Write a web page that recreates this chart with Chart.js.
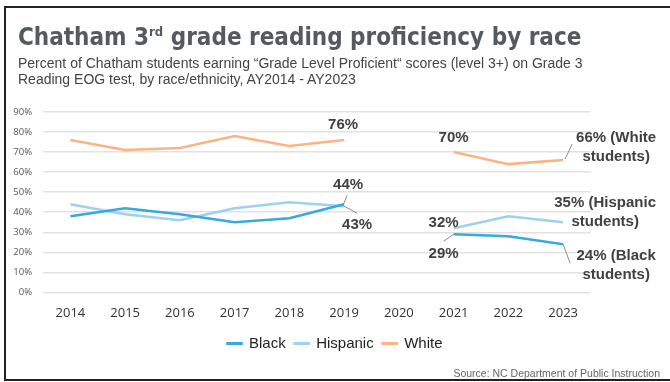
<!DOCTYPE html>
<html>
<head>
<meta charset="utf-8">
<script src="https://cdn.jsdelivr.net/npm/chart.js@4.4.1/dist/chart.umd.min.js"></script>
<style>
  html, body { margin: 0; padding: 0; background: #fff; }
  #wrap { position: relative; width: 670px; height: 382px; overflow: hidden; background: #fff; }
  #frame { position: absolute; left: 4px; top: 6px; width: 700px; height: 371px;
           border: 2px solid #222; border-right: none; }
  #title { position: absolute; left: 18px; top: 25px; margin: 0; white-space: nowrap;
           font: bold 24px "Liberation Sans Narrow", "DejaVu Sans Condensed", sans-serif;
           line-height: 24px; color: #555a60; }
  #title sup { font-size: 13px; vertical-align: 9px; line-height: 0; }
  #sub { position: absolute; left: 18px; top: 55px; margin: 0;
         font: 14px "Liberation Sans", Arial, sans-serif; line-height: 16px; color: #444; }
  #source { position: absolute; right: 10px; top: 367px; margin: 0;
            font: 10.5px "Liberation Sans", Arial, sans-serif; line-height: 12px; color: #666; }
  #chart { position: absolute; left: 0; top: 0; }
</style>
</head>
<body>
<div id="wrap">
  <div id="frame"></div>
  <canvas id="chart" width="670" height="382"></canvas>
  <div id="title">Chatham 3<sup>rd</sup> grade reading proficiency by race</div>
  <div id="sub">Percent of Chatham students earning “Grade Level Proficient“ scores (level 3+) on Grade 3<br>Reading EOG test, by race/ethnicity, AY2014 - AY2023</div>
  <div id="source">Source: NC Department of Public Instruction</div>
</div>
<script>
// data (percent), 2020 has no test
const years = ["2014", "2015", "2016", "2017", "2018", "2019", "2020", "2021", "2022", "2023"];
const black = [38, 42, 39, 35, 37, 44, null, 29, 28, 24];
const hispanic = [44, 39, 36, 42, 45, 43, null, 32, 38, 35];
const white = [76, 71, 72, 78, 73, 76, null, 70, 64, 66];
const yTicks = [0, 10, 20, 30, 40, 50, 60, 70, 80, 90];

// where the value labels sit, relative to their point (ds = dataset index)
const notes = [
  { ds: 2, i: 5, dx: -1, dy: -15 },
  { ds: 0, i: 5, dx: 4, dy: -19, lead: [-1, 1, 3, -9] },
  { ds: 1, i: 5, dx: 13, dy: 19, lead: [0, 0, 13, 7] },
  { ds: 2, i: 7, dx: 0, dy: -14 },
  { ds: 1, i: 7, dx: -10, dy: -5 },
  { ds: 0, i: 7, dx: -10, dy: 20, lead: [0, 0, -10, 7] },
  { ds: 2, i: 9, dx: 53, dy: -22, more: " (White", line2: "students)", lead: [2, -1, 9, -16] },
  { ds: 1, i: 9, dx: 42, dy: -19, more: " (Hispanic", line2: "students)" },
  { ds: 0, i: 9, dx: 53, dy: 12, more: " (Black", line2: "students)", lead: [0, 0, 7, 19] }
];

const valueLabels = {
  id: "valueLabels",
  afterDatasetsDraw(chart) {
    const ctx = chart.ctx;
    ctx.save();
    notes.forEach(function (n) {
      const v = chart.data.datasets[n.ds].data[n.i];
      const pt = chart.getDatasetMeta(n.ds).data[n.i];
      const x = pt.x, y = pt.y;
      if (n.lead) {
        ctx.strokeStyle = "#8a8a8a";
        ctx.lineWidth = 1;
        ctx.beginPath();
        ctx.moveTo(x + n.lead[0], y + n.lead[1]);
        ctx.lineTo(x + n.lead[2], y + n.lead[3]);
        ctx.stroke();
      }
      ctx.font = "bold 15px 'Liberation Sans', Arial, sans-serif";
      ctx.fillStyle = "#404040";
      ctx.textAlign = "center";
      ctx.textBaseline = "middle";
      ctx.fillText(v + "%" + (n.more || ""), x + n.dx, y + n.dy);
      if (n.line2) ctx.fillText(n.line2, x + n.dx, y + n.dy + 19);
    });
    ctx.restore();
  }
};

new Chart(document.getElementById("chart"), {
  type: "line",
  data: {
    labels: years,
    datasets: [
      { label: "Black", data: black, borderColor: "#36a9de", backgroundColor: "#36a9de" },
      { label: "Hispanic", data: hispanic, borderColor: "#9ed0ef", backgroundColor: "#9ed0ef" },
      { label: "White", data: white, borderColor: "#fcb384", backgroundColor: "#fcb384" }
    ]
  },
  options: {
    responsive: false,
    animation: false,
    spanGaps: false,
    elements: {
      line: { borderWidth: 2.5, tension: 0 },
      point: { radius: 0, hoverRadius: 0 }
    },
    layout: { padding: { top: 112, right: 0, left: 0, bottom: 21 } },
    scales: {
      x: {
        offset: true,
        afterFit(scale) { scale.height -= 7; },
        grid: { display: false, drawTicks: false },
        border: { display: false },
        ticks: { padding: 13, color: "#333", font: { family: "'Open Sans', sans-serif", size: 13 } }
      },
      y: {
        min: 0,
        max: 90,
        afterFit(scale) { scale.width = 43; },
        afterBuildTicks(scale) { scale.ticks = yTicks.map(function (v) { return { value: v }; }); },
        grid: { color: "#e2e2e2", lineWidth: 1.5, drawTicks: false },
        border: { display: false },
        ticks: {
          padding: 11,
          color: "#555",
          font: { family: "'Open Sans', sans-serif", size: 9.5 },
          callback: function (v) { return v + "%"; }
        }
      },
      // empty right-hand axis: keeps room for the end labels
      side: {
        position: "right",
        afterFit(scale) { scale.width = 79.5; },
        grid: { display: false },
        border: { display: false },
        ticks: { display: false }
      }
    },
    plugins: {
      legend: {
        position: "bottom",
        labels: {
          boxWidth: 14,
          boxHeight: 0.5,
          padding: 9,
          color: "#222",
          font: { family: "'Liberation Sans', Arial, sans-serif", size: 15 }
        }
      },
      tooltip: { enabled: false }
    }
  },
  plugins: [valueLabels]
});
</script>
</body>
</html>
